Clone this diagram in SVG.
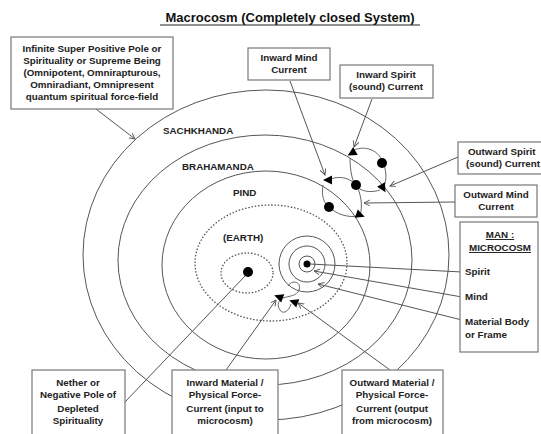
<svg xmlns="http://www.w3.org/2000/svg" width="541" height="434" viewBox="0 0 541 434">
<style>
text{font-family:"Liberation Sans",Arial,sans-serif;font-size:9.8px;font-weight:bold;fill:#222}
.t{text-anchor:middle}
.title{font-size:13px;text-anchor:middle;fill:#111}
.box{fill:#fff;stroke:#777;stroke-width:1.2}
.ring{fill:none;stroke:#555;stroke-width:1}
.dot{fill:none;stroke:#555;stroke-width:1.3;stroke-dasharray:1.5 1.8}
.ln{fill:none;stroke:#555;stroke-width:1}
.lnA{fill:none;stroke:#555;stroke-width:1;marker-end:url(#ah)}
.loop{fill:none;stroke:#666;stroke-width:1}
</style>
<defs>
<marker id="ah" markerWidth="7" markerHeight="7" refX="6" refY="3" orient="auto" markerUnits="userSpaceOnUse">
<path d="M0,0 L6,3 L0,6" fill="none" stroke="#555" stroke-width="0.9"/>
</marker>
<path id="tri" d="M-4,-4.5 L5,0 L-4,4.5 Z" fill="#000"/>
</defs>
<rect width="541" height="434" fill="#fff"/>

<text class="title" x="290" y="22">Macrocosm (Completely closed System)</text>
<line x1="160" y1="25" x2="420" y2="25" stroke="#222" stroke-width="1"/>

<g id="spheres">
<ellipse class="ring" cx="266" cy="255" rx="183" ry="165"/>
<ellipse class="ring" cx="265" cy="260" rx="147" ry="125"/>
<ellipse class="ring" cx="266" cy="265" rx="104" ry="94"/>
<ellipse class="dot" cx="271" cy="263" rx="76" ry="58"/>
<ellipse class="dot" cx="247" cy="273" rx="26" ry="20"/>
<text x="163" y="134">SACHKHANDA</text>
<text x="182" y="170">BRAHAMANDA</text>
<text x="233" y="196">PIND</text>
<text x="223" y="241">(EARTH)</text>
</g>

<g id="nether-pole"><circle cx="248" cy="272" r="5" fill="#000"/></g>

<g id="man">
<circle class="ring" cx="307" cy="264" r="28"/>
<circle class="ring" cx="307" cy="264" r="18"/>
<circle class="ring" cx="307" cy="264" r="8"/>
<circle cx="307" cy="264" r="3.5" fill="#000"/>
<path class="loop" d="M288,286 C292,279 302,282 299,290 C297,296 289,296 283,298 M291,304 C289,311 283,315 280,310 C277,306 278,302 281,299"/>
<use href="#tri" transform="translate(279,297) rotate(200)"/>
<use href="#tri" transform="translate(294,302) rotate(200)"/>
</g>

<g id="currents">
<path class="loop" d="M352,152 C358,146 375,146 382,160 C386,168 388,180 383,188"/>
<path class="loop" d="M350,158 C350,170 352,182 357,187 C364,193 374,192 380,190"/>
<path class="loop" d="M328,180 C337,176 348,176 356,185 C361,193 363,207 360,215"/>
<path class="loop" d="M323,185 C321,195 324,204 329,207 C336,214 348,218 358,216"/>
<circle cx="382" cy="163" r="5" fill="#000"/>
<circle cx="356" cy="185" r="5" fill="#000"/>
<circle cx="329" cy="207" r="5" fill="#000"/>
<use href="#tri" transform="translate(352,153) rotate(150)"/>
<use href="#tri" transform="translate(383,188) rotate(60)"/>
<use href="#tri" transform="translate(328,180) rotate(180)"/>
<use href="#tri" transform="translate(360,215) rotate(20)"/>
</g>

<g id="connectors">
<line class="lnA" x1="96" y1="109" x2="135" y2="139"/>
<line class="lnA" x1="290" y1="81" x2="325" y2="175"/>
<line class="lnA" x1="372" y1="99" x2="354" y2="147"/>
<line class="lnA" x1="458" y1="157" x2="390" y2="186"/>
<line class="lnA" x1="455" y1="202" x2="364" y2="203"/>
<line class="ln" x1="462" y1="272" x2="310" y2="264"/>
<line class="lnA" x1="462" y1="297" x2="314" y2="271"/>
<line class="lnA" x1="462" y1="320" x2="318" y2="284"/>
<line class="ln" x1="125" y1="402" x2="245" y2="276"/>
<line class="lnA" x1="226" y1="370" x2="276" y2="300"/>
<line class="lnA" x1="390" y1="370" x2="298" y2="303"/>
</g>

<g id="box-supreme">
<rect class="box" x="11" y="37" width="162" height="72"/>
<text class="t" x="92" y="52">Infinite Super Positive Pole or</text>
<text class="t" x="92" y="64">Spirituality or Supreme Being</text>
<text class="t" x="92" y="76">(Omnipotent, Omnirapturous,</text>
<text class="t" x="92" y="88">Omniradiant, Omnipresent</text>
<text class="t" x="92" y="100">quantum spiritual force-field</text>
</g>
<g id="box-inward-mind">
<rect class="box" x="248" y="48" width="82" height="32"/>
<text class="t" x="289" y="61">Inward Mind</text>
<text class="t" x="289" y="73">Current</text>
</g>
<g id="box-inward-spirit">
<rect class="box" x="340" y="65" width="93" height="33"/>
<text class="t" x="386" y="78">Inward  Spirit</text>
<text class="t" x="386" y="90">(sound) Current</text>
</g>
<g id="box-outward-spirit">
<rect class="box" x="458" y="142" width="92" height="32"/>
<text x="468" y="155">Outward  Spirit</text>
<text x="466" y="167">(sound) Current</text>
</g>
<g id="box-outward-mind">
<rect class="box" x="455" y="185" width="82" height="32"/>
<text class="t" x="496" y="198">Outward Mind</text>
<text class="t" x="496" y="210">Current</text>
</g>
<g id="box-man">
<rect class="box" x="460" y="222" width="78" height="130"/>
<text class="t" x="500" y="238" text-decoration="underline">MAN :</text>
<text class="t" x="500" y="251" text-decoration="underline">MICROCOSM</text>
<text x="465" y="275">Spirit</text>
<text x="465" y="300">Mind</text>
<text x="465" y="325">Material Body</text>
<text x="465" y="338">or Frame</text>
</g>
<g id="box-nether">
<rect class="box" x="32" y="370" width="93" height="80"/>
<text class="t" x="78" y="386">Nether or</text>
<text class="t" x="78" y="398">Negative Pole of</text>
<text class="t" x="78" y="412">Depleted</text>
<text class="t" x="78" y="424">Spirituality</text>
</g>
<g id="box-inward-material">
<rect class="box" x="172" y="370" width="106" height="80"/>
<text class="t" x="225" y="386">Inward Material /</text>
<text class="t" x="225" y="398">Physical Force-</text>
<text class="t" x="225" y="412">Current (input to</text>
<text class="t" x="225" y="424">microcosm)</text>
</g>
<g id="box-outward-material">
<rect class="box" x="342" y="370" width="101" height="80"/>
<text class="t" x="392" y="386">Outward Material /</text>
<text class="t" x="392" y="398">Physical Force-</text>
<text class="t" x="392" y="412">Current (output</text>
<text class="t" x="392" y="424">from microcosm)</text>
</g>
</svg>
